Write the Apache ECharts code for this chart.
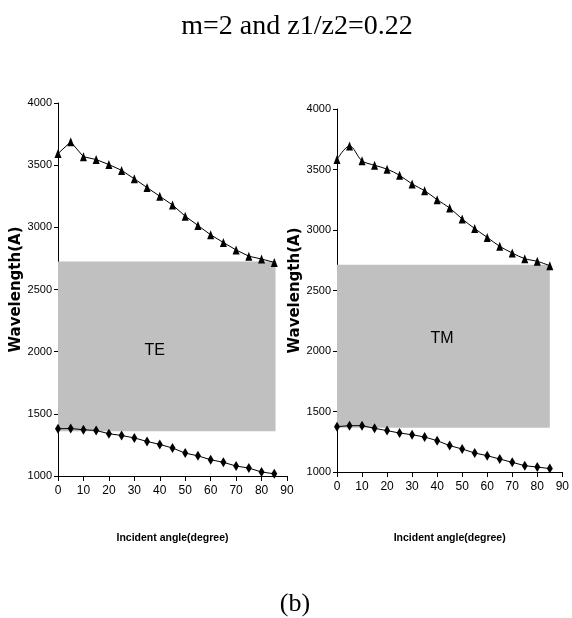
<!DOCTYPE html>
<html>
<head>
<meta charset="utf-8">
<script src="https://cdn.jsdelivr.net/npm/echarts@6/dist/echarts.min.js"></script>
<style>html,body{margin:0;padding:0;background:#fff;}#c{width:572px;height:618px;}</style>
</head>
<body>
<div id="c"></div>
<script>
var angles = [0,5,10,15,20,25,30,35,40,45,50,55,60,65,70,75,80,85];
var teUpper = [3593,3688,3568,3545,3505,3458,3390,3320,3250,3180,3090,3015,2940,2878,2818,2768,2745,2718];
var teLower = [1380,1382,1372,1366,1340,1326,1306,1278,1254,1225,1184,1162,1131,1110,1080,1064,1032,1018];
var tmUpper = [3582,3695,3572,3535,3503,3452,3380,3325,3250,3182,3091,3012,2939,2865,2810,2763,2741,2705];
var tmLower = [1375,1383,1383,1361,1342,1322,1308,1289,1259,1218,1190,1157,1135,1107,1080,1052,1041,1028];
// gap band: [xStart, xEnd, yBottom, yTop]
var bandTE = [0, 85.5, 1360, 2725];
var bandTM = [0, 85, 1365, 2712];
var labelTE = [38, 2005];
var labelTM = [42, 2105];
var yTicks = [1000, 4000, 500];
var xTicks = [0, 90, 10];
var titleText = 'm=2 and z1/z2=0.22';
var captionText = '(b)';
var xName = 'Incident angle(degree)';
var yName = 'Wavelength(A)';

var narrow = "'Liberation Sans Narrow','Liberation Sans',sans-serif";
function pairs(xs, ys){ return xs.map(function(x,i){ return [x, ys[i]]; }); }
function plain(v){ return String(v); }
function xAxis(idx, gap){
  return {
    type:'value', gridIndex: idx, min: xTicks[0], max: xTicks[1], interval: xTicks[2],
    name: xName, nameLocation:'middle', nameGap: gap,
    nameTextStyle:{color:'#000', fontFamily: narrow, fontSize:10.5, fontWeight:'bold'},
    axisLine:{show:true, onZero:false, lineStyle:{color:'#000', width:1}},
    axisTick:{show:true, inside:false, length:5, lineStyle:{color:'#000'}},
    axisLabel:{color:'#000', fontFamily: narrow, fontSize:12, margin:9, formatter: plain},
    splitLine:{show:false}
  };
}
function yAxis(idx){
  return {
    type:'value', gridIndex: idx, min: yTicks[0], max: yTicks[1], interval: yTicks[2],
    name: yName, nameLocation:'middle', nameGap: 31,
    nameTextStyle:{color:'#000', fontFamily:"'DejaVu Sans',sans-serif", fontSize:15, fontWeight:'bold'},
    axisLine:{show:true, lineStyle:{color:'#000', width:1}},
    axisTick:{show:true, inside:false, length:4, lineStyle:{color:'#000'}},
    axisLabel:{color:'#000', fontFamily: narrow, fontSize:11, margin:6, formatter: plain},
    splitLine:{show:false}
  };
}
function band(b, lbl, txt){
  return {
    markArea:{silent:true, itemStyle:{color:'#c0c0c0'}, label:{show:false},
      data:[[{xAxis:b[0], yAxis:b[2]},{xAxis:b[1], yAxis:b[3]}]]},
    markPoint:{silent:true, symbol:'rect', symbolSize:1, itemStyle:{color:'rgba(0,0,0,0)'},
      label:{show:true, position:'inside', formatter: txt, color:'#000', fontFamily: narrow, fontSize:16},
      data:[{coord: lbl}]}
  };
}
function lineSeries(xi, data, sym, size, smooth, extra){
  var s = {
    type:'line', xAxisIndex: xi, yAxisIndex: xi, data: data, smooth: smooth,
    symbol: sym, symbolSize: size, showSymbol:true,
    lineStyle:{color:'#000', width:1}, itemStyle:{color:'#000'}, z:3, clip:false
  };
  if (extra) { for (var k in extra) s[k] = extra[k]; }
  return s;
}
var chart = echarts.init(document.getElementById('c'), null, {renderer:'canvas'});
chart.setOption({
  animation:false,
  backgroundColor:'#fff',
  graphic:[
    {type:'text', x:297, y:27, style:{text: titleText, fill:'#000', font:"28px 'Liberation Serif','Times New Roman',serif", align:'center', verticalAlign:'middle'}},
    {type:'text', x:295, y:604, style:{text: captionText, fill:'#000', font:"26px 'Liberation Serif','Times New Roman',serif", align:'center', verticalAlign:'middle'}}
  ],
  grid:[
    {left:58, top:103, width:229, height:373},
    {left:337, top:109, width:231, height:363}
  ],
  xAxis:[xAxis(0, 57), xAxis(1, 61)],
  yAxis:[yAxis(0), yAxis(1)],
  series:[
    lineSeries(0, pairs(angles, teUpper), 'triangle', [7,9], false, band(bandTE, labelTE, 'TE')),
    lineSeries(0, pairs(angles, teLower), 'diamond', [6,10], false),
    lineSeries(1, pairs(angles, tmUpper), 'triangle', [7,9], 0.35, band(bandTM, labelTM, 'TM')),
    lineSeries(1, pairs(angles, tmLower), 'diamond', [6,10], false)
  ]
});
</script>
</body>
</html>
